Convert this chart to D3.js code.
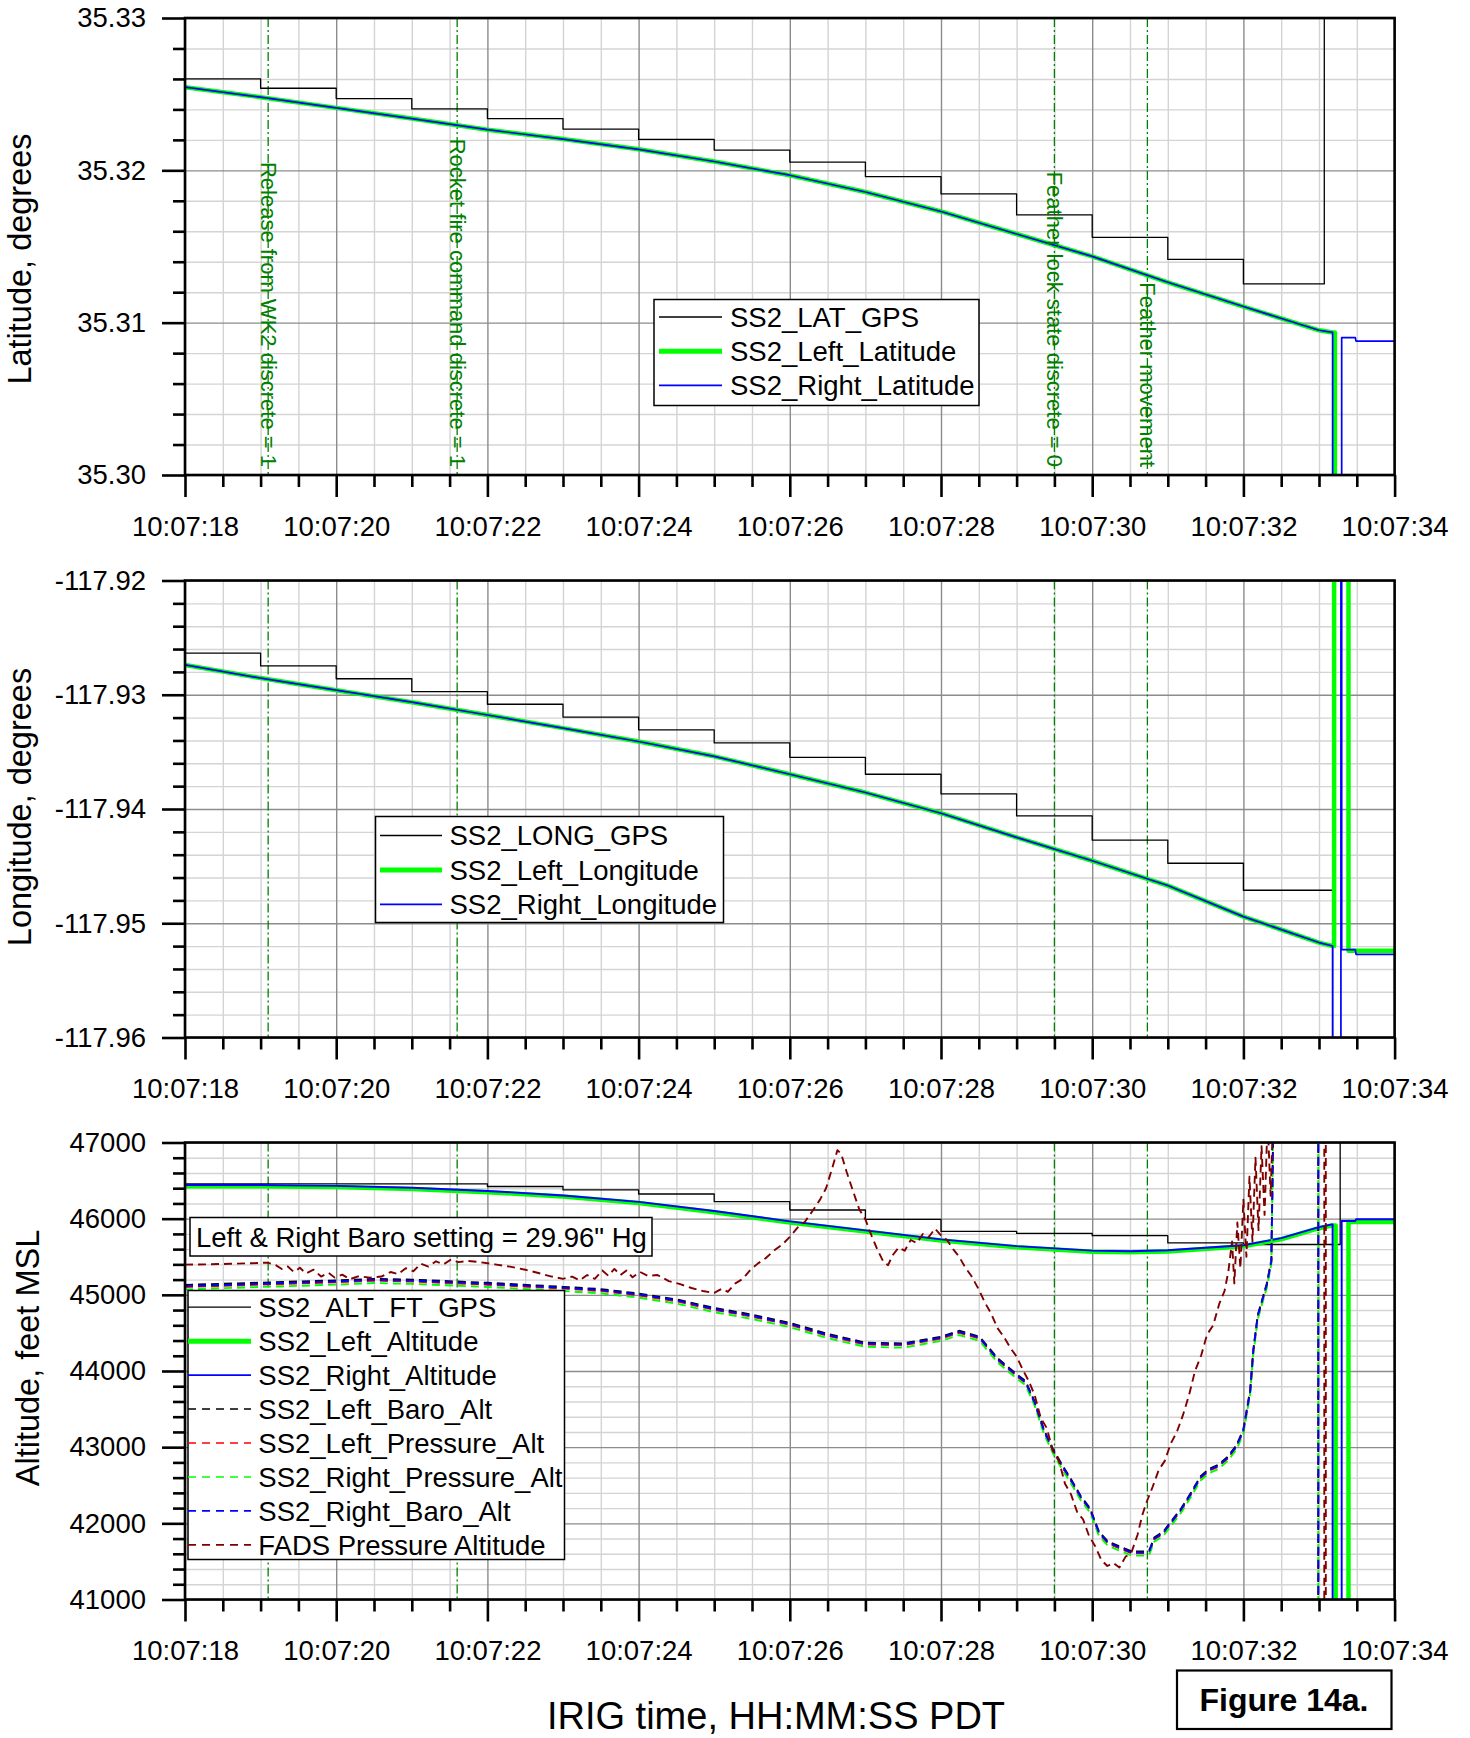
<!DOCTYPE html>
<html>
<head>
<meta charset="utf-8">
<script src="https://cdn.jsdelivr.net/npm/d3@7"></script>
<style>
  html, body { margin: 0; padding: 0; background: #fff; }
  svg { display: block; font-family: 'Liberation Sans', Arial, sans-serif; }
</style>
</head>
<body>
<div id="chart"></div>
<script>
// time = seconds after 10:07:18 PDT
const xTickLabels = ['10:07:18', '10:07:20', '10:07:22', '10:07:24', '10:07:26', '10:07:28', '10:07:30', '10:07:32', '10:07:34'];

const eventTimes = [1.10, 3.60, 11.50, 12.73];
const eventLabels = ['Release from WK2 discrete = 1', 'Rocket fire command discrete = 1', 'Feather lock state discrete = 0', 'Feather movement'];

// ---- latitude panel
const latTicks = [35.30, 35.31, 35.32, 35.33];
const latTickLabels = ['35.30', '35.31', '35.32', '35.33'];
const latGps = [[0, 35.32600], [1, 35.32539], [2, 35.32471], [3, 35.32403], [4, 35.32340], [5, 35.32271], [6, 35.32203],
  [7, 35.32133], [8, 35.32054], [9, 35.31959], [10, 35.31845], [11, 35.31707], [12, 35.31560], [13, 35.31415],
  [14, 35.31254], [15.07, 35.34], [16, 35.34]];
const latLeft = [[0, 35.32546], [1, 35.32480], [2, 35.32410], [3, 35.32340], [4, 35.32267], [5, 35.32205], [6, 35.32138],
  [7, 35.32058], [8, 35.31968], [9, 35.31858], [10, 35.31730], [11, 35.31582], [12, 35.31435], [13, 35.31265],
  [14, 35.31106], [15, 35.30950], [15.18, 35.30936], [15.21, 35.30936], [15.21, 35.29], [16, 35.29]];
const latRight = [[0, 35.32546], [1, 35.32480], [2, 35.32410], [3, 35.32340], [4, 35.32267], [5, 35.32205], [6, 35.32138],
  [7, 35.32058], [8, 35.31968], [9, 35.31858], [10, 35.31730], [11, 35.31582], [12, 35.31435], [13, 35.31265],
  [14, 35.31106], [15, 35.30950], [15.18, 35.30936], [15.18, 35.29], [15.30, 35.29], [15.30, 35.30902],
  [15.48, 35.30902], [15.49, 35.30879], [16, 35.30879]];

// ---- longitude panel
const lonTicks = [-117.96, -117.95, -117.94, -117.93, -117.92];
const lonTickLabels = ['-117.96', '-117.95', '-117.94', '-117.93', '-117.92'];
const lonGps = [[0, -117.92636], [1, -117.92748], [2, -117.92860], [3, -117.92972], [4, -117.93083], [5, -117.93195],
  [6, -117.93307], [7, -117.93422], [8, -117.93548], [9, -117.93696], [10, -117.93868], [11, -117.94061],
  [12, -117.94273], [13, -117.94475], [14, -117.94711], [15.18, -117.97], [16, -117.97]];
const lonLeft = [[0, -117.92739], [1, -117.92854], [2, -117.92960], [3, -117.93065], [4, -117.93177], [5, -117.93292],
  [6, -117.93409], [7, -117.93539], [8, -117.93696], [9, -117.93856], [10, -117.94037], [11, -117.94248],
  [12, -117.94453], [13, -117.94670], [14, -117.94942], [15, -117.95169], [15.18, -117.95199], [15.20, -117.95199],
  [15.20, -117.91], [15.39, -117.91], [15.39, -117.95240], [16, -117.95240]];
const lonRight = [[0, -117.92739], [1, -117.92854], [2, -117.92960], [3, -117.93065], [4, -117.93177], [5, -117.93292],
  [6, -117.93409], [7, -117.93539], [8, -117.93696], [9, -117.93856], [10, -117.94037], [11, -117.94248],
  [12, -117.94453], [13, -117.94670], [14, -117.94942], [15, -117.95169], [15.18, -117.95199], [15.18, -117.97],
  [15.29, -117.97], [15.29, -117.91], [15.30, -117.91], [15.30, -117.95230], [15.48, -117.95230],
  [15.49, -117.95272], [16, -117.95272]];

// ---- altitude panel
const altTicks = [41000, 42000, 43000, 44000, 45000, 46000, 47000];
const altTickLabels = ['41000', '42000', '43000', '44000', '45000', '46000', '47000'];
const altGps = [[0, 46457], [4, 46422], [5, 46378], [6, 46324], [7, 46223], [8, 46114], [9, 45992], [10, 45832],
  [11, 45806], [12, 45777], [13, 45681], [14, 45661], [15.28, 47600], [16, 47600]];
const altLeft = [[0, 46425], [1, 46425], [2, 46415], [3, 46390], [4, 46348], [5, 46290], [6, 46205], [7, 46085],
  [8, 45950], [9, 45832], [10, 45712], [11, 45625], [12, 45565], [12.5, 45558], [13, 45570], [14, 45638],
  [14.5, 45730], [15, 45875], [15.17, 45910], [15.22, 45910], [15.22, 40500], [15.39, 40500], [15.39, 45955],
  [16, 45955]];
const altRight = [[0, 46442], [1, 46442], [2, 46431], [3, 46405], [4, 46364], [5, 46305], [6, 46220], [7, 46100],
  [8, 45965], [9, 45847], [10, 45728], [11, 45640], [12, 45580], [12.5, 45572], [13, 45585], [14, 45651],
  [14.5, 45744], [15, 45889], [15.17, 45925], [15.18, 45925], [15.18, 40500], [15.30, 40500], [15.30, 45970],
  [15.48, 45970], [15.49, 45992], [16, 45992]];

const baroT = [0, 1, 2, 2.5, 3, 4, 5, 5.5, 6, 6.5, 7, 7.47, 8, 8.5, 9, 9.5, 10, 10.24, 10.51, 10.75, 11, 11.12,
  11.24, 11.36, 11.48, 11.6, 11.73, 11.85, 11.97, 12.09, 12.21, 12.33, 12.52, 12.7, 12.76, 12.82, 12.94, 13.06,
  13.18, 13.31, 13.43, 13.55, 13.67, 13.79, 13.91, 14.0, 14.09, 14.13, 14.19, 14.25, 14.31, 14.37, 14.40, 14.99,
  14.99, 16];
const leftBaroAlt = [45130, 45160, 45190, 45210, 45200, 45158, 45105, 45075, 45018, 44940, 44828, 44745, 44632, 44488,
  44372, 44362, 44450, 44528, 44450, 44166, 43958, 43866, 43596, 43235, 42976, 42770, 42562, 42356, 42200, 41890,
  41760, 41710, 41632, 41632, 41658, 41812, 41890, 42046, 42200, 42408, 42614, 42718, 42770, 42872, 43028, 43235,
  43752, 44270, 44735, 44942, 45148, 45460, 47600, 47600, 40500, 40500];
const leftPressAlt = [45102, 45133, 45164, 45185, 45174, 45133, 45081, 45050, 44993, 44916, 44802, 44719, 44606, 44461,
  44347, 44337, 44425, 44502, 44425, 44140, 43933, 43840, 43571, 43209, 42951, 42744, 42537, 42330, 42175, 41865,
  41735, 41684, 41606, 41606, 41632, 41787, 41865, 42020, 42175, 42382, 42588, 42692, 42744, 42847, 43002, 43209,
  43726, 44244, 44709, 44916, 45123, 45433, 47600, 47600, 40500, 40500];
const rightPressAlt = [45072, 45103, 45134, 45155, 45144, 45103, 45051, 45020, 44963, 44886, 44772, 44689, 44576, 44431,
  44317, 44307, 44395, 44472, 44395, 44110, 43903, 43810, 43541, 43179, 42921, 42714, 42507, 42300, 42145, 41835,
  41705, 41654, 41576, 41576, 41602, 41757, 41835, 41990, 42145, 42352, 42558, 42662, 42714, 42817, 42972, 43179,
  43696, 44214, 44679, 44886, 45093, 45403, 47600, 47600, 40500, 40500];
const rightBaroAlt = [45114, 45145, 45176, 45197, 45186, 45145, 45093, 45062, 45005, 44928, 44814, 44731, 44618, 44473,
  44359, 44349, 44437, 44514, 44437, 44152, 43945, 43852, 43583, 43221, 42963, 42756, 42549, 42342, 42187, 41877,
  41747, 41696, 41618, 41618, 41644, 41799, 41877, 42032, 42187, 42394, 42600, 42704, 42756, 42859, 43014, 43221,
  43738, 44256, 44721, 44928, 45135, 45445, 47600, 47600, 40500, 40500];

const fadsAlt = [[0.00, 45397], [0.30, 45400], [0.60, 45408], [0.90, 45415], [1.09, 45423], [1.20, 45390], [1.28, 45340],
  [1.36, 45372], [1.44, 45300], [1.52, 45355], [1.60, 45280], [1.70, 45330], [1.80, 45240], [1.90, 45290],
  [1.98, 45226], [2.08, 45265], [2.18, 45205], [2.30, 45245], [2.45, 45225], [2.60, 45240], [2.72, 45300],
  [2.82, 45270], [2.92, 45350], [3.02, 45310], [3.12, 45410], [3.22, 45370], [3.32, 45440], [3.42, 45400],
  [3.52, 45465], [3.62, 45430], [3.75, 45445], [3.90, 45430], [4.10, 45400], [4.30, 45370], [4.50, 45330],
  [4.70, 45280], [4.85, 45240], [5.00, 45210], [5.12, 45240], [5.22, 45190], [5.32, 45260], [5.42, 45210],
  [5.52, 45320], [5.60, 45250], [5.68, 45340], [5.76, 45260], [5.84, 45320], [5.92, 45230], [6.02, 45300],
  [6.12, 45250], [6.25, 45260], [6.40, 45180], [6.55, 45140], [6.70, 45090], [6.85, 45050], [7.00, 45025],
  [7.10, 45080], [7.18, 45040], [7.28, 45150], [7.38, 45210], [7.48, 45330], [7.58, 45413], [7.68, 45480],
  [7.80, 45589], [7.90, 45660], [8.00, 45760], [8.10, 45880], [8.20, 45960], [8.30, 46100], [8.40, 46250],
  [8.48, 46400], [8.56, 46660], [8.63, 46900], [8.68, 46850], [8.75, 46620], [8.83, 46380], [8.92, 46120],
  [9.00, 45990], [9.08, 45780], [9.16, 45590], [9.24, 45430], [9.30, 45390], [9.36, 45520], [9.44, 45620],
  [9.52, 45580], [9.60, 45720], [9.68, 45680], [9.76, 45800], [9.84, 45760], [9.92, 45870], [10.00, 45780],
  [10.08, 45720], [10.16, 45600], [10.24, 45500], [10.32, 45360], [10.40, 45250], [10.50, 45070], [10.58, 44900],
  [10.66, 44760], [10.75, 44560], [10.83, 44450], [10.92, 44300], [11.00, 44190], [11.08, 44020], [11.16, 43870],
  [11.24, 43680], [11.32, 43380], [11.40, 43250], [11.48, 42950], [11.56, 42820], [11.64, 42520], [11.72, 42380],
  [11.80, 42150], [11.88, 42050], [11.96, 41830], [12.04, 41700], [12.12, 41520], [12.20, 41440], [12.28, 41480],
  [12.36, 41420], [12.44, 41560], [12.52, 41620], [12.60, 41850], [12.66, 42100], [12.72, 42280], [12.80, 42480],
  [12.88, 42700], [12.96, 42820], [13.04, 43050], [13.12, 43200], [13.20, 43420], [13.28, 43680], [13.36, 44000],
  [13.44, 44200], [13.52, 44480], [13.60, 44600], [13.68, 44880], [13.75, 45050], [13.80, 45300], [13.85, 45700],
  [13.88, 45150], [13.92, 45950], [13.96, 45350], [14.00, 46250], [14.04, 45500], [14.08, 46550], [14.12, 45700],
  [14.16, 46800], [14.20, 45850], [14.24, 46950], [14.28, 46050], [14.32, 47300], [14.36, 46300], [14.40, 47600],
  [15.07, 47600], [15.07, 40500], [15.09, 40500], [15.09, 47600], [16.00, 47600]];

// ---------------------------------------------------------------
const W = 1470, H = 1738;
const left = 185, right = 1394.6;
const panelTops = [18, 580.5, 1142.5];
const panelH = 457;

const svg = d3.select('#chart').append('svg').attr('width', W).attr('height', H);

const x = d3.scaleLinear().domain([0, 16]).range([left, right]);
const xMajor = d3.range(0, 16.01, 2);
const xMinor = d3.range(0.5, 16, 0.5).filter(v => v % 2 !== 0);

const zip = (ts, vs) => ts.map((t, i) => [t, vs[i]]);

const panels = [
  {
    domain: [35.30, 35.33], ticks: latTicks, labels: latTickLabels, minorStep: 0.002,
    title: 'Latitude, degrees', titleX: 31, titleY: 259,
    series: [
      { data: latGps, color: '#000', width: 1.3, step: true },
      { data: latLeft, color: '#00ff00', width: 4.5 },
      { data: latRight, color: '#0000ff', width: 1.7 }
    ],
    legend: {
      x: 654, y: 299.5, w: 325, h: 106, row0: 317, rowH: 34.2, lineX: [659, 722], textX: 730,
      items: [
        { label: 'SS2_LAT_GPS', color: '#000', width: 1.3 },
        { label: 'SS2_Left_Latitude', color: '#00ff00', width: 5 },
        { label: 'SS2_Right_Latitude', color: '#0000ff', width: 1.7 }
      ]
    },
    eventText: true
  },
  {
    domain: [-117.96, -117.92], ticks: lonTicks, labels: lonTickLabels, minorStep: 0.002,
    title: 'Longitude, degrees', titleX: 31, titleY: 807,
    series: [
      { data: lonGps, color: '#000', width: 1.3, step: true },
      { data: lonLeft, color: '#00ff00', width: 4.5 },
      { data: lonRight, color: '#0000ff', width: 1.7 }
    ],
    legend: {
      x: 375.5, y: 816.5, w: 348, h: 106, row0: 835.5, rowH: 34.4, lineX: [380, 442], textX: 449.5,
      items: [
        { label: 'SS2_LONG_GPS', color: '#000', width: 1.3 },
        { label: 'SS2_Left_Longitude', color: '#00ff00', width: 5 },
        { label: 'SS2_Right_Longitude', color: '#0000ff', width: 1.7 }
      ]
    }
  },
  {
    domain: [41000, 47000], ticks: altTicks, labels: altTickLabels, minorStep: 200,
    title: 'Altitude, feet MSL', titleX: 39, titleY: 1358,
    series: [
      { data: altGps, color: '#000', width: 1.3, step: true },
      { data: altLeft, color: '#00ff00', width: 4.5 },
      { data: altRight, color: '#0000ff', width: 1.9 },
      { data: zip(baroT, leftBaroAlt), color: '#000', width: 1.9, dash: '8,5' },
      { data: zip(baroT, leftPressAlt), color: '#ff0000', width: 1.9, dash: '8,5' },
      { data: zip(baroT, rightPressAlt), color: '#00ff00', width: 1.9, dash: '8,5' },
      { data: zip(baroT, rightBaroAlt), color: '#0000ff', width: 1.9, dash: '8,5' },
      { data: fadsAlt, color: '#800000', width: 1.9, dash: '8,5' }
    ],
    legend: {
      x: 188, y: 1290.5, w: 376.5, h: 269, row0: 1307.2, rowH: 33.95, lineX: [188, 251], textX: 258.3,
      items: [
        { label: 'SS2_ALT_FT_GPS', color: '#000', width: 1.3 },
        { label: 'SS2_Left_Altitude', color: '#00ff00', width: 5 },
        { label: 'SS2_Right_Altitude', color: '#0000ff', width: 1.9 },
        { label: 'SS2_Left_Baro_Alt', color: '#000', width: 1.6, dash: '8,6' },
        { label: 'SS2_Left_Pressure_Alt', color: '#ff0000', width: 1.6, dash: '8,6' },
        { label: 'SS2_Right_Pressure_Alt', color: '#00ff00', width: 1.6, dash: '8,6' },
        { label: 'SS2_Right_Baro_Alt', color: '#0000ff', width: 1.6, dash: '8,6' },
        { label: 'FADS Pressure Altitude', color: '#800000', width: 1.6, dash: '8,6' }
      ]
    },
    note: { text: 'Left & Right Baro setting = 29.96" Hg', x: 190, y: 1217.5, w: 462, h: 38.5 }
  }
];

panels.forEach((p, i) => {
  const top = panelTops[i];
  const bottom = top + panelH;
  const y = d3.scaleLinear().domain(p.domain).range([bottom, top]);
  const yMinor = d3.range(p.domain[0], p.domain[1] + p.minorStep / 2, p.minorStep)
    .filter(v => !p.ticks.some(t => Math.abs(t - v) < p.minorStep / 10));

  const g = svg.append('g');

  svg.append('clipPath').attr('id', 'clip' + i)
    .append('rect').attr('x', left).attr('y', top).attr('width', right - left).attr('height', panelH);

  // grid: minor first, then major
  const grid = (axis, tx, ty, color) => {
    g.append('g').attr('transform', `translate(${tx},${ty})`).call(axis)
      .call(s => s.select('.domain').remove())
      .call(s => s.selectAll('line').attr('stroke', color).attr('stroke-width', 1.4));
  };
  grid(d3.axisBottom(x).tickValues(xMinor).tickSize(-panelH).tickFormat(''), 0, bottom, '#d4d4d4');
  grid(d3.axisLeft(y).tickValues(yMinor).tickSize(-(right - left)).tickFormat(''), left, 0, '#d4d4d4');
  grid(d3.axisBottom(x).tickValues(xMajor).tickSize(-panelH).tickFormat(''), 0, bottom, '#8c8c8c');
  grid(d3.axisLeft(y).tickValues(p.ticks).tickSize(-(right - left)).tickFormat(''), left, 0, '#8c8c8c');

  // event markers
  g.append('g').selectAll('line').data(eventTimes).join('line')
    .attr('x1', d => x(d)).attr('x2', d => x(d))
    .attr('y1', top).attr('y2', bottom)
    .attr('stroke', '#008000').attr('stroke-width', 1.3)
    .attr('stroke-dasharray', '9,3,2,3');

  // data
  const plot = g.append('g').attr('clip-path', `url(#clip${i})`);
  p.series.forEach(s => {
    const line = d3.line()
      .x(d => x(d[0]))
      .y(d => y(d[1]))
      .curve(s.step ? d3.curveStepAfter : d3.curveLinear);
    plot.append('path')
      .datum(s.data)
      .attr('d', line)
      .attr('fill', 'none')
      .attr('stroke', s.color)
      .attr('stroke-width', s.width)
      .attr('stroke-linejoin', 'round')
      .attr('stroke-dasharray', s.dash || null);
  });

  // event labels (top panel only)
  if (p.eventText) {
    g.append('g').selectAll('text').data(eventTimes).join('text')
      .attr('transform', d => `translate(${x(d)},${bottom - 8}) rotate(90)`)
      .attr('text-anchor', 'end')
      .attr('dominant-baseline', 'central')
      .attr('font-size', 22)
      .attr('fill', '#008000')
      .text((d, j) => eventLabels[j]);
  }

  // frame
  g.append('rect')
    .attr('x', left).attr('y', top).attr('width', right - left).attr('height', panelH)
    .attr('fill', 'none').attr('stroke', '#000').attr('stroke-width', 2.6);

  // axes
  const styleAxis = s => {
    s.select('.domain').remove();
    s.attr('font-size', 27.5).attr('font-family', null);
    s.selectAll('line').attr('stroke', '#000').attr('stroke-width', 2.6);
    s.selectAll('text').attr('fill', '#000');
  };
  g.append('g').attr('transform', `translate(${left},0)`)
    .call(d3.axisLeft(y).tickValues(yMinor).tickSize(12).tickFormat(''))
    .call(styleAxis);
  g.append('g').attr('transform', `translate(${left},0)`)
    .call(d3.axisLeft(y).tickValues(p.ticks).tickSize(23).tickPadding(16).tickFormat((d, j) => p.labels[j]))
    .call(styleAxis);
  g.append('g').attr('transform', `translate(0,${bottom})`)
    .call(d3.axisBottom(x).tickValues(xMinor).tickSize(12).tickFormat(''))
    .call(styleAxis);
  g.append('g').attr('transform', `translate(0,${bottom})`)
    .call(d3.axisBottom(x).tickValues(xMajor).tickSize(22).tickPadding(19).tickFormat((d, j) => xTickLabels[j]))
    .call(styleAxis);

  // y title
  g.append('text')
    .attr('transform', `translate(${p.titleX},${p.titleY}) rotate(-90)`)
    .attr('text-anchor', 'middle')
    .attr('font-size', 32.5)
    .attr('fill', '#000')
    .text(p.title);

  // note box
  if (p.note) {
    const n = p.note;
    g.append('rect').attr('x', n.x).attr('y', n.y).attr('width', n.w).attr('height', n.h)
      .attr('fill', '#fff').attr('stroke', '#000').attr('stroke-width', 1.5);
    g.append('text').attr('x', n.x + 6).attr('y', n.y + n.h / 2 + 9.8)
      .attr('font-size', 27.5).attr('fill', '#000').text(n.text);
  }

  // legend
  const L = p.legend;
  const lg = g.append('g');
  lg.append('rect').attr('x', L.x).attr('y', L.y).attr('width', L.w).attr('height', L.h)
    .attr('fill', '#fff').attr('stroke', '#000').attr('stroke-width', 1.5);
  L.items.forEach((it, j) => {
    const cy = L.row0 + j * L.rowH;
    lg.append('line')
      .attr('x1', L.lineX[0]).attr('x2', L.lineX[1]).attr('y1', cy).attr('y2', cy)
      .attr('stroke', it.color).attr('stroke-width', it.width)
      .attr('stroke-dasharray', it.dash || null);
    lg.append('text')
      .attr('x', L.textX).attr('y', cy + 9.8)
      .attr('font-size', 27.5).attr('fill', '#000')
      .text(it.label);
  });
});

// x axis title
svg.append('text')
  .attr('x', 776).attr('y', 1729)
  .attr('text-anchor', 'middle')
  .attr('font-size', 38)
  .attr('fill', '#000')
  .text('IRIG time, HH:MM:SS PDT');

// figure tag
svg.append('rect')
  .attr('x', 1177).attr('y', 1670.5).attr('width', 214.5).attr('height', 58.5)
  .attr('fill', '#fff').attr('stroke', '#000').attr('stroke-width', 2.2);
svg.append('text')
  .attr('x', 1284).attr('y', 1711)
  .attr('text-anchor', 'middle')
  .attr('font-size', 32)
  .attr('font-weight', 'bold')
  .attr('fill', '#000')
  .text('Figure 14a.');
</script>
</body>
</html>
